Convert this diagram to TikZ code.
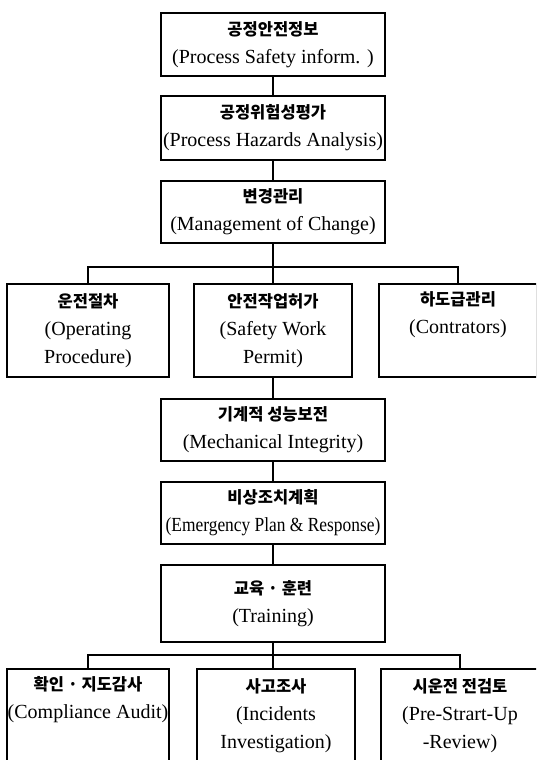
\documentclass[tikz,border=0pt]{standalone}
\usepackage{fontspec}
\setmainfont{Liberation Serif}
\newfontfamily\korfont{Noto Sans CJK KR}
\newfontfamily\narrowfont{Liberation Serif}[FakeStretch=0.87]
\usetikzlibrary{calc}
\newcommand{\kr}[1]{{\korfont\bfseries\fontsize{16.5}{28}\selectfont #1}}

\begin{document}
\begin{tikzpicture}[x=1pt,y=-1pt,
    box/.style={draw, line width=1.5pt, align=center, inner sep=0pt,
      font=\fontsize{20}{28}\selectfont},
    midbox/.style={box, minimum width=224pt},
    sidebox/.style={box, minimum height=93pt},
    link/.style={line width=1.5pt}]
  \useasboundingbox (0,0) rectangle (536,760);
  \clip (0,0) rectangle (536,760);
  % main column
  \node[midbox, minimum height=63pt] (psi) at (273,44.5) {\kr{공정안전정보}\\(Process Safety inform. )};
  \node[midbox, minimum height=64pt] (pha) at (273,128) {\kr{공정위험성평가}\\(Process Hazards Analysis)};
  \node[midbox, minimum height=62pt] (moc) at (273,212) {\kr{변경관리}\\(Management of Change)};
  \node[midbox, minimum height=62pt] (mi) at (273,430) {\kr{기계적 성능보전}\\(Mechanical Integrity)};
  \node[midbox, minimum height=62pt] (ep) at (273,513) {\kr{비상조치계획}\\{\narrowfont (Emergency Plan \& Response)}};
  \node[midbox, minimum height=77pt] (tr) at (273,603.5) {\kr{교육 · 훈련}\\(Training)};
  % rows of three
  \node[sidebox, minimum width=162pt] (op) at (88,330.5) {\kr{운전절차}\\(Operating\\Procedure)};
  \node[sidebox, minimum width=158pt] (sfw) at (273,330.5) {\kr{안전작업허가}\\(Safety Work\\Permit)};
  \node[sidebox, minimum width=158pt] (con) at (458,330.5) {\kr{하도급관리}\\(Contrators)\\\strut};
  \node[sidebox, minimum width=162pt] (ca) at (88,715.5) {\kr{확인 · 지도감사}\\(Compliance Audit)\\\strut};
  \node[sidebox, minimum width=158pt] (ii) at (276,715.5) {\kr{사고조사}\\(Incidents\\Investigation)};
  \node[sidebox, minimum width=158pt] (ps) at (460,715.5) {\kr{시운전 전검토}\\(Pre-Strart-Up\\-Review)};
  % connectors
  \foreach \a/\b in {psi/pha,pha/moc,sfw/mi,mi/ep,ep/tr}
    \draw[link] (\a.south) -- (\b.north);
  \coordinate (j1) at ($(moc.south)+(0,23)$);
  \draw[link] (moc.south) -- (j1);
  \draw[link] (op.north) |- (j1) -| (con.north);
  \draw[link] (j1) -- (sfw.north);
  \coordinate (j2) at ($(tr.south)+(0,12)$);
  \draw[link] (tr.south) -- (j2);
  \draw[link] (ca.north) |- (j2) -| (ps.north);
  \draw[link] (j2) -- (j2 |- ii.north);
\end{tikzpicture}
\end{document}
